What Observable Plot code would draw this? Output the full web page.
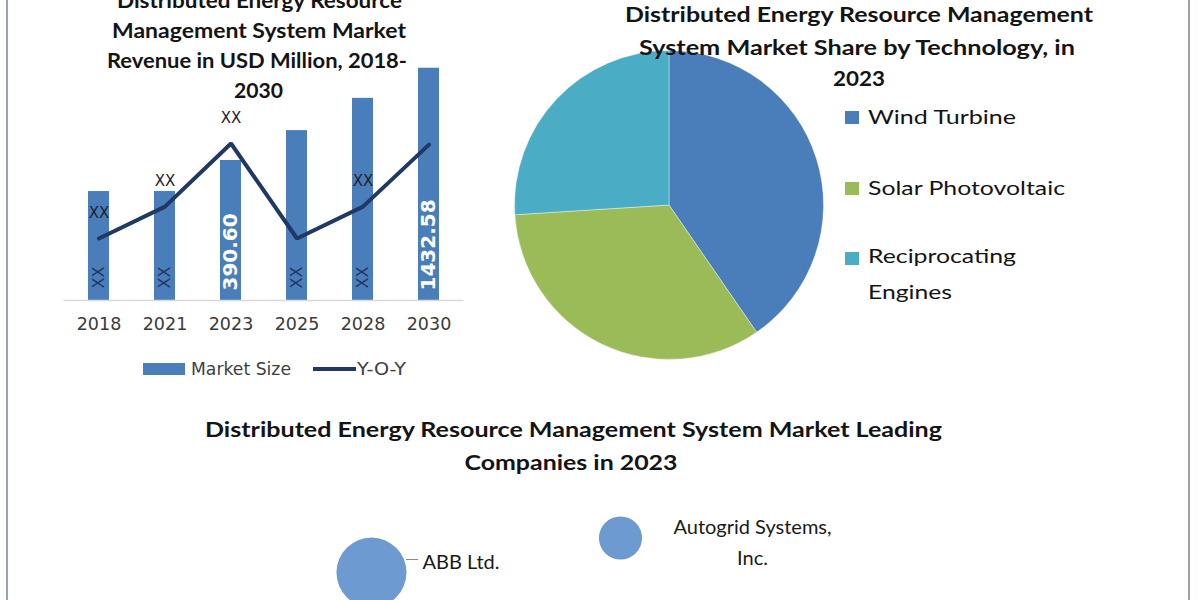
<!DOCTYPE html>
<html>
<head>
<meta charset="utf-8">
<script src="https://cdn.jsdelivr.net/npm/d3@7"></script>
<script src="https://cdn.jsdelivr.net/npm/@observablehq/plot@0.6"></script>
<style>
  html, body { margin: 0; padding: 0; background: #fff; }
  #root { position: relative; width: 1200px; height: 600px; overflow: hidden; background: #fff; }
  #root > * { position: absolute; }
</style>
</head>
<body>
<div id="root"></div>
<script>
// ---------- data ----------
const years = ["2018", "2021", "2023", "2025", "2028", "2030"];
const marketSize = [304, 304, 390.6, 474, 564, 648];
const marketSizeLabels = ["XX", "XX", "390.60", "XX", "XX", "1432.58"];
const yoyIndex = [173, 262, 438, 173, 262, 435];
const yoyLabels = ["XX", "XX", "XX", "", "XX", ""];

const technologies = ["Wind Turbine", "Solar Photovoltaic", "Reciprocating Engines"];
const technologyShare = [40.4, 33.6, 26.0];

const companies = ["ABB Ltd.", "Autogrid Systems,\nInc."];
const companyWeight = [10, 3.8];
const companyX = [3.71, 6.2];
const companyY = [0.68, 1.025];

// ---------- styles ----------
const BLUE = "#4a7ebb", GREEN = "#9bbb59", TEAL = "#4bacc6", NAVY = "#1f3864", BUBBLE = "#6e9ad2";
const root = document.getElementById("root");

function place(node, left, top) {
  node.style.left = left + "px";
  node.style.top = top + "px";
  root.appendChild(node);
}

// ---------- bar + line chart ----------
const barData = years.map((year, i) => ({
  year, size: marketSize[i], sizeLabel: marketSizeLabels[i], yoy: yoyIndex[i], yoyLabel: yoyLabels[i]
}));
const bar = Plot.plot({
  width: 480, height: 400,
  marginLeft: 63.5, marginRight: 16.5, marginTop: 0, marginBottom: 100,
  style: { background: "transparent", fontFamily: "DejaVu Sans" },
  x: { type: "band", domain: years, paddingInner: 0.68, paddingOuter: 0.34 },
  y: { domain: [0, 837], axis: null },
  marks: [
    Plot.barY(barData, { x: "year", y: "size", fill: BLUE }),
    Plot.ruleY([0], { stroke: "#d9d9d9", strokeWidth: 1.5 }),
    Plot.axisX({ tickSize: 0, tickPadding: 17, fontSize: 17.5, color: "#3a3a3a", label: null, fontFamily: "DejaVu Sans" }),
    Plot.text(barData.filter(d => d.sizeLabel === "XX"), {
      x: "year", y: 0, dy: -12, text: "sizeLabel", rotate: -90, textAnchor: "start",
      fontSize: 16, fill: NAVY, fontFamily: "DejaVu Sans"
    }),
    Plot.text(barData.filter(d => d.sizeLabel !== "XX"), {
      x: "year", y: 0, dy: -10, text: "sizeLabel", rotate: -90, textAnchor: "start",
      fontSize: 20, fontWeight: "bold", fill: "white", fontFamily: "DejaVu Sans"
    }),
    Plot.line(barData, { x: "year", y: "yoy", stroke: NAVY, strokeWidth: 4, strokeLinejoin: "miter" }),
    Plot.text(barData.filter(d => d.yoyLabel), {
      x: "year", y: "yoy", text: "yoyLabel", dy: -25, fontSize: 15, fill: "#1e2230", fontFamily: "DejaVu Sans"
    })
  ]
});
place(bar, 0, 0);

// ---------- pie chart ----------
const pieData = technologies.map((name, i) => ({ name, share: technologyShare[i] }));
const PIE_BOX = 330, PIE_R = 154.5, ext = PIE_BOX / 2 / PIE_R;
const pie = Plot.plot({
  width: PIE_BOX, height: PIE_BOX, margin: 0,
  style: { background: "transparent" },
  x: { domain: [-ext, ext], axis: null },
  y: { domain: [-ext, ext], axis: null },
  color: { domain: technologies, range: [BLUE, GREEN, TEAL] },
  marks: [
    Plot.dot(pieData, {
      x: () => 0, y: () => 0, fill: "name",
      render: (index, scales) => {
        const cx = scales.x(0), cy = scales.y(0), r = scales.x(1) - scales.x(0);
        const arcs = d3.pie().sort(null).value(d => d.share)(Array.from(index, i => pieData[i]));
        const g = d3.create("svg:g").attr("transform", `translate(${cx},${cy})`);
        g.selectAll("path").data(arcs).join("path")
          .attr("d", d3.arc().innerRadius(0).outerRadius(r))
          .attr("fill", d => scales.color(d.data.name))
          .attr("stroke", "#ffffff").attr("stroke-opacity", 0.5).attr("stroke-width", 0.8);
        return g.node();
      }
    })
  ]
});
place(pie, 668.5 - PIE_BOX / 2, 204.5 - PIE_BOX / 2);

// ---------- bubble chart ----------
const companyData = companies.map((name, i) => ({ name, weight: companyWeight[i], x: companyX[i], y: companyY[i] }));
const bubble = Plot.plot({
  width: 1200, height: 200, margin: 0,
  style: { background: "transparent" },
  x: { domain: [0, 12], axis: null },
  y: { domain: [0, 2], axis: null },
  r: { domain: [0, 10], range: [0, 35] },
  marks: [
    Plot.dot(companyData, { x: "x", y: "y", r: "weight", fill: BUBBLE }),
    Plot.ruleY(companyData.slice(0, 1), { y: "y", x1: d => d.x + 0.35, x2: d => d.x + 0.47, dy: -13, stroke: "#8a8a8a", strokeWidth: 1 }),
    Plot.text(companyData.slice(0, 1), {
      x: "x", y: "y", text: "name", dx: 51, dy: -10, textAnchor: "start",
      fontSize: 20, fontFamily: "Lato", fill: "#1a1a1a"
    }),
    Plot.text(companyData.slice(1), {
      x: "x", y: "y", text: "name", dx: 132, dy: 2, textAnchor: "middle", lineHeight: 1.55,
      fontSize: 20, fontFamily: "Lato", fill: "#1a1a1a"
    })
  ]
});
place(bubble, 0, 440);

// ---------- titles, legends, frame ----------
const overlay = d3.create("svg").attr("width", 1200).attr("height", 600)
  .style("pointer-events", "none").style("overflow", "visible");
function txt(str, x, y, o) {
  const t = overlay.append("text").attr("x", x).attr("y", y).text(str)
    .attr("font-family", o.family || "Lato")
    .attr("font-size", o.size)
    .attr("font-weight", o.weight || 400)
    .attr("fill", o.fill || "#141414")
    .attr("text-anchor", o.anchor || "start");
  if (o.length) t.attr("textLength", o.length).attr("lengthAdjust", "spacingAndGlyphs");
  return t;
}
// frame lines
overlay.append("line").attr("x1", 7).attr("x2", 7).attr("y1", 0).attr("y2", 600).attr("stroke", "#7d8ca3").attr("stroke-width", 1.6);
overlay.append("line").attr("x1", 1189).attr("x2", 1189).attr("y1", 0).attr("y2", 600).attr("stroke", "#7f8989").attr("stroke-width", 1.6);

// bar chart title
const T = { size: 21, weight: 700, anchor: "middle" };
txt("Distributed Energy Resource", 259.5, 8, { ...T, length: 285 });
txt("Management System Market", 259, 38, { ...T, length: 294 });
txt("Revenue in USD Million, 2018-", 257, 68, { ...T, length: 300 });
txt("2030", 258.5, 98, { ...T, length: 49 });

// bar chart legend
overlay.append("rect").attr("x", 143).attr("y", 363).attr("width", 42).attr("height", 12).attr("fill", BLUE);
txt("Market Size", 191, 375, { family: "DejaVu Sans", size: 17, fill: "#404040", length: 100 });
overlay.append("line").attr("x1", 313).attr("x2", 356).attr("y1", 369).attr("y2", 369).attr("stroke", NAVY).attr("stroke-width", 4);
txt("Y-O-Y", 357, 375, { family: "DejaVu Sans", size: 17, fill: "#404040", length: 49 });

// pie title
txt("Distributed Energy Resource Management", 859, 22, { ...T, length: 468 });
txt("System Market Share by Technology, in", 857, 54.5, { ...T, length: 436 });
txt("2023", 859, 86, { ...T, length: 52 });

// pie legend
const swatchY = [111, 182, 252];
[BLUE, GREEN, TEAL].forEach((c, i) => overlay.append("rect").attr("x", 845).attr("y", swatchY[i]).attr("width", 14).attr("height", 13).attr("fill", c));
const L = { size: 18.5 };
txt("Wind Turbine", 868, 124, { ...L, length: 148 });
txt("Solar Photovoltaic", 868, 195, { ...L, length: 197 });
txt("Reciprocating", 868, 263, { ...L, length: 148 });
txt("Engines", 868, 299, { ...L, length: 84 });

// bubble title
txt("Distributed Energy Resource Management System Market Leading", 573.5, 437, { ...T, length: 737 });
txt("Companies in 2023", 571, 470, { ...T, length: 213 });

place(overlay.node(), 0, 0);
</script>
</body>
</html>
